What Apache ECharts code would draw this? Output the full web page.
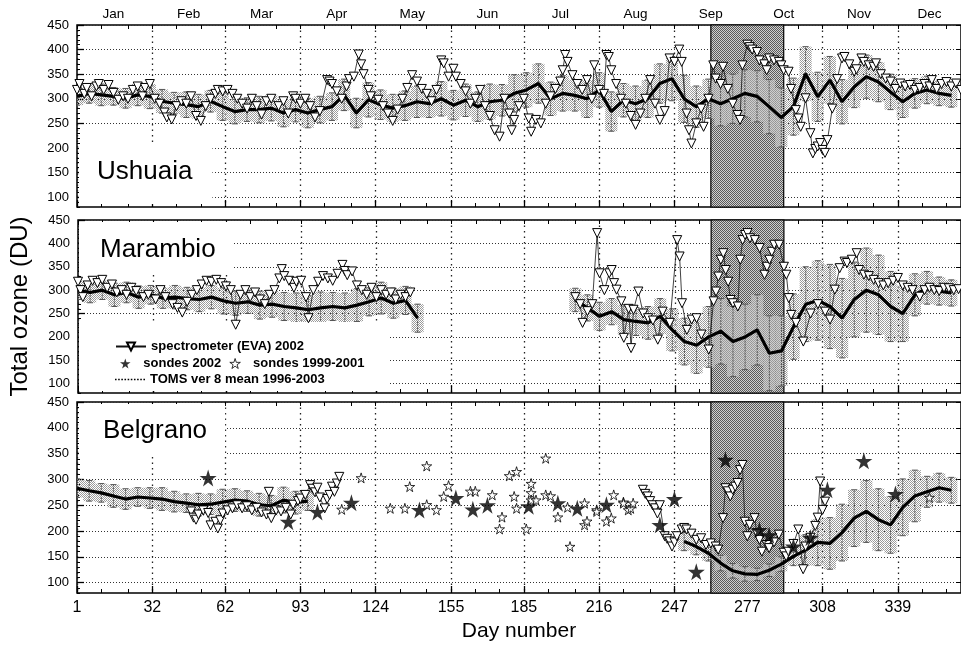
<!DOCTYPE html>
<html>
<head>
<meta charset="utf-8">
<script src="https://cdn.jsdelivr.net/npm/echarts@6/dist/echarts.min.js"></script>
<style>
  html, body { margin: 0; padding: 0; background: #fff; }
  #chart { width: 961px; height: 645px; }
</style>
</head>
<body>
<div id="chart"></div>
<script>
// ---- axes ----
const majorDays = [1, 32, 62, 93, 124, 155, 185, 216, 247, 277, 308, 339];
const minorDays = [1, 11, 22, 32, 42, 52, 62, 72, 83, 93, 103, 114, 124, 134, 145, 155, 165, 175, 185, 195,
  206, 216, 226, 237, 247, 257, 267, 277, 287, 298, 308, 318, 329, 339, 349, 359];
const monthDays = [16, 47, 77, 108, 139, 170, 200, 231, 262, 292, 323, 352];
const monthNames = ['Jan', 'Feb', 'Mar', 'Apr', 'May', 'Jun', 'Jul', 'Aug', 'Sep', 'Oct', 'Nov', 'Dec'];
const yMajor = [100, 150, 200, 250, 300, 350, 400, 450];
const holePeriod = [262, 292];

const stations = ['Ushuaia', 'Marambio', 'Belgrano'];

// ---- TOMS mean 1996-2003, every 5 days ----
const days = [1, 6, 11, 16, 21, 26, 31, 36, 41, 46, 51, 56, 61, 66, 71, 76, 81, 86, 91, 96,
  101, 106, 111, 116, 121, 126, 131, 136, 141, 146, 151, 156, 161, 166, 171, 176, 181, 186, 191, 196,
  201, 206, 211, 216, 221, 226, 231, 236, 241, 246, 251, 256, 261, 266, 271, 276, 281, 286, 291, 296,
  301, 306, 311, 316, 321, 326, 331, 336, 341, 346, 351, 356, 361];

const ushMean = [305, 311, 308, 305, 301, 308, 305, 295, 291, 288, 284, 295, 284, 274, 278, 278, 281, 271, 278, 271,
  278, 284, 308, 271, 298, 288, 281, 286, 294, 290, 300, 287, 297, 284, 294, 297, 311, 318, 331, 300,
  311, 307, 300, 318, 274, 297, 290, 300, 331, 341, 300, 284, 300, 290, 300, 311, 305, 284, 262, 284,
  351, 304, 338, 294, 324, 345, 334, 314, 294, 311, 318, 311, 307];
const ushSpread = [18, 20, 22, 18, 20, 22, 25, 24, 22, 26, 25, 22, 28, 25, 24, 27, 26, 28, 25, 30,
  27, 28, 32, 30, 35, 30, 28, 30, 32, 28, 35, 30, 33, 30, 36, 32, 38, 35, 40, 34,
  36, 32, 38, 35, 40, 34, 36, 38, 40, 45, 48, 42, 40, 45, 50, 48, 52, 55, 60, 58,
  55, 50, 48, 45, 42, 44, 40, 36, 32, 30, 28, 25, 24];

const marMean = [300, 295, 300, 290, 295, 285, 290, 283, 285, 282, 280, 285, 277, 272, 275, 268, 270, 265, 262, 258,
  262, 265, 262, 268, 275, 283, 272, 278, 240, null, null, null, null, null, null, null, null, null, null, null,
  null, 279, 262, 244, 254, 237, 233, 230, 244, 215, 190, 182, 200, 212, 190, 200, 215, 165, 170, 222,
  270, 278, 265, 240, 280, 300, 290, 265, 250, 290, 305, 298, 294];
const marSpread = [20, 22, 20, 25, 22, 24, 20, 22, 25, 24, 26, 25, 28, 26, 25, 30, 28, 30, 32, 30,
  34, 30, 32, 35, 30, 34, 32, 30, 30, null, null, null, null, null, null, null, null, null, null, null,
  null, 25, 28, 30, 28, 32, 30, 35, 38, 45, 50, 60, 65, 70, 75, 70, 75, 80, 75, 70,
  80, 85, 90, 85, 80, 90, 85, 75, 60, 45, 35, 30, 28];

const belMean = [283, 278, 274, 268, 262, 266, 264, 262, 257, 254, 251, 252, 256, 260, 258, 251, 249, 260, 255, 258,
  null, null, null, null, null, null, null, null, null, null, null, null, null, null, null, null, null, null, null, null,
  null, null, null, null, null, null, null, null, null, null, 180, 170, 157, 138, 123, 117, 116, 124, 136, 151,
  163, 178, 176, 197, 225, 238, 222, 212, 246, 268, 276, 284, 279];
const belSpread = [18, 20, 18, 22, 20, 18, 20, 22, 20, 18, 22, 20, 25, 22, 20, 22, 20, 25, 22, 18,
  null, null, null, null, null, null, null, null, null, null, null, null, null, null, null, null, null, null, null, null,
  null, null, null, null, null, null, null, null, null, null, 18, 16, 15, 15, 14, 14, 12, 12, 14, 18,
  30, 45, 50, 55, 55, 60, 60, 55, 55, 50, 30, 28, 25];

// ---- spectrometer (EVA) 2002: [day, DU] ----
const ushSpec = [[1, 318], [2, 330], [4, 310], [5, 322], [7, 305], [9, 325], [10, 330], [12, 318], [14, 328], [16, 312],
  [18, 298], [20, 305], [22, 300], [24, 318], [26, 325], [28, 305], [29, 322], [31, 330], [33, 300], [35, 290],
  [37, 272], [38, 262], [40, 258], [42, 285], [44, 295], [46, 290], [48, 305], [50, 265], [52, 255], [54, 285],
  [56, 300], [58, 310], [59, 318], [61, 315], [63, 318], [65, 310], [67, 300], [69, 290], [71, 280], [73, 300],
  [75, 285], [77, 268], [79, 295], [81, 300], [84, 285], [86, 295], [88, 270], [90, 305], [91, 300], [93, 290],
  [95, 300], [97, 285], [99, 262], [101, 275], [104, 338], [105, 335], [106, 330], [108, 315], [110, 300], [112, 325],
  [113, 340], [115, 345], [117, 390], [118, 370], [119, 350], [121, 318], [122, 305], [125, 298], [127, 285], [129, 270],
  [131, 255], [133, 278], [135, 300], [137, 322], [139, 348], [141, 335], [143, 320], [145, 310], [147, 295], [149, 318],
  [151, 378], [152, 372], [154, 345], [156, 361], [157, 345], [159, 330], [161, 315], [163, 290], [165, 300], [167, 318],
  [169, 285], [171, 265], [173, 236], [175, 223], [177, 300], [179, 270], [180, 236], [181, 257], [183, 285], [185, 300],
  [187, 260], [188, 233], [190, 257], [192, 250], [194, 290], [196, 305], [198, 320], [200, 335], [201, 358], [202, 389],
  [203, 375], [205, 348], [207, 330], [209, 318], [211, 338], [213, 300], [214, 368], [216, 318], [218, 310], [219, 389],
  [220, 385], [221, 358], [223, 330], [225, 300], [227, 290], [229, 265], [231, 247], [233, 270], [235, 300], [237, 338],
  [239, 290], [241, 257], [243, 275], [245, 382], [247, 375], [249, 400], [250, 375], [252, 270], [253, 236], [254, 209],
  [256, 250], [258, 280], [259, 243], [261, 300], [263, 368], [264, 341], [266, 330], [267, 365], [269, 320], [271, 290],
  [273, 267], [274, 257], [275, 368], [277, 410], [278, 405], [279, 400], [281, 395], [282, 378], [284, 370], [285, 358],
  [286, 382], [288, 378], [290, 375], [291, 368], [292, 358], [294, 355], [295, 320], [297, 277], [298, 260], [299, 243],
  [301, 301], [303, 230], [304, 189], [305, 198], [306, 203], [307, 210], [308, 196], [309, 190], [310, 216], [312, 280],
  [314, 340], [316, 382], [317, 385], [319, 370], [321, 355], [322, 360], [324, 382], [325, 375], [327, 368], [329, 365],
  [330, 372], [332, 350], [334, 341], [336, 335], [338, 320], [340, 331], [342, 325], [344, 328], [346, 318], [348, 322],
  [350, 330], [352, 325], [353, 338], [355, 320], [357, 330], [359, 334], [361, 325], [363, 331], [365, 318]];

const marSpec = [[1, 318], [2, 300], [3, 285], [5, 310], [7, 320], [9, 315], [11, 322], [13, 305], [15, 312], [17, 295],
  [19, 300], [21, 290], [23, 305], [25, 298], [28, 285], [30, 290], [33, 280], [35, 300], [37, 285], [40, 270],
  [42, 262], [44, 252], [46, 275], [48, 290], [50, 300], [52, 312], [54, 320], [56, 318], [58, 322], [60, 315],
  [62, 308], [64, 300], [66, 226], [68, 290], [70, 300], [72, 285], [74, 295], [76, 280], [78, 270], [80, 290],
  [82, 300], [84, 325], [85, 345], [86, 330], [88, 320], [90, 305], [91, 318], [93, 320], [95, 285], [96, 240],
  [98, 300], [100, 318], [102, 330], [104, 325], [106, 320], [108, 335], [110, 354], [111, 341], [112, 332], [114, 340],
  [116, 310], [118, 300], [120, 290], [122, 305], [124, 285], [126, 300], [128, 290], [130, 295], [132, 280], [134, 290],
  [136, 285], [138, 295], [170, null],
  [206, 285], [208, 270], [209, 230], [211, 255], [213, 270], [215, 422], [216, 336], [218, 300], [220, 336], [221, 343],
  [222, 315], [223, 301], [225, 276], [226, 198], [228, 260], [229, 176], [230, 258], [232, 297], [234, 250], [236, 240],
  [238, 235], [240, 194], [242, 254], [245, 230], [248, 407], [249, 372], [250, 272], [252, 215], [254, 237], [256, 240],
  [258, 205], [261, 173], [263, 276], [264, 297], [265, 329], [266, 365], [267, 379], [268, 343], [269, 318], [270, 279],
  [271, 272], [273, 265], [274, 365], [275, 407], [276, 418], [277, 422], [278, 411], [280, 407], [282, 390], [284, 333],
  [285, 350], [286, 365], [287, 382], [288, 397], [290, 397], [292, 350], [293, 333], [294, 283], [295, 247], [297, 230],
  [300, 190], [303, 250], [306, 270], [309, 254], [311, 237], [313, 301], [315, 347], [317, 361], [318, 358], [320, 365],
  [322, 379], [323, 343], [325, 333], [327, 330], [329, 322], [331, 315], [333, 310], [335, 315], [337, 320], [339, 326],
  [341, 310], [343, 305], [345, 300], [348, 286], [350, 300], [352, 305], [354, 300], [356, 298], [358, 305], [360, 304],
  [362, 300], [364, 302]];

const belSpec = [[48, 238], [49, 226], [50, 222], [51, 232], [53, 240], [55, 235], [56, 211], [58, 218], [59, 205], [60, 221],
  [61, 234], [63, 240], [65, 244], [67, 250], [69, 244], [71, 248], [73, 240], [75, 245], [77, 236], [79, 232],
  [80, 276], [81, 225], [83, 240], [85, 238], [87, 245], [89, 232], [90, 251], [92, 258], [93, 263], [95, 270],
  [97, 289], [98, 282], [99, 275], [100, 284], [101, 265], [103, 244], [104, 262], [105, 270], [106, 286], [107, 276],
  [108, 292], [109, 305], [170, null],
  [234, 280], [235, 272], [236, 267], [237, 258], [238, 250], [239, 244], [240, 234], [241, 250], [243, 190], [244, 185],
  [245, 180], [246, 170], [247, 178], [248, 190], [250, 203], [251, 206], [252, 203], [254, 195], [256, 183], [258, 186],
  [260, 173], [262, 176], [264, 170], [265, 164], [267, 225], [268, 283], [269, 277], [270, 267], [271, 280], [272, 286],
  [273, 293], [274, 318], [275, 328], [276, 218], [277, 190], [278, 212], [280, 225], [281, 195], [282, 183], [283, 160],
  [285, 173], [286, 167], [288, 178], [290, 193], [292, 158], [293, 151], [294, 160], [296, 175], [298, 203], [300, 126],
  [301, 170], [303, 187], [305, 210], [306, 226], [307, 296], [308, 241], [309, 257]];

// ---- ozone sondes at Belgrano: [day, DU] ----
const sondes2002 = [[55, 303], [88, 218], [100, 237], [114, 255], [142, 241], [157, 264], [164, 242], [170, 250],
  [187, 248], [199, 254], [207, 244], [219, 251], [241, 212], [247, 262], [256, 121], [268, 338], [282, 202],
  [286, 192], [296, 170], [303, 187], [310, 280], [325, 336], [338, 272]];
const sondes9901 = [[110, 242], [118, 303], [130, 244], [136, 244], [138, 286], [145, 326], [145, 251], [149, 241],
  [152, 267], [154, 288], [163, 277], [165, 277], [172, 270], [175, 204], [176, 227], [179, 307], [182, 315],
  [181, 267], [182, 244], [186, 204], [188, 292], [188, 274], [188, 260], [190, 260], [194, 341], [194, 270],
  [196, 268], [199, 227], [203, 246], [204, 170], [210, 254], [210, 212], [211, 219], [215, 241], [215, 238],
  [219, 219], [221, 225], [222, 270], [226, 256], [226, 254], [228, 241], [229, 244], [230, 254], [352, 265]];

const means = [ushMean, marMean, belMean];
const spreads = [ushSpread, marSpread, belSpread];
const specs = [ushSpec, marSpec, belSpec];

// ---- styling helpers ----
const FONT = 'Liberation Sans';
const STAR = 'path://M50,0 L61,35 L98,35 L68,57 L79,91 L50,70 L21,91 L32,57 L2,35 L39,35 Z';
const DOTTED = 'path://M0,0h1.6v1.6h-1.6zM3.2,0h1.6v1.6h-1.6zM6.4,0h1.6v1.6h-1.6zM9.6,0h1.6v1.6h-1.6zM12.8,0h1.6v1.6h-1.6z' +
  'M16,0h1.6v1.6h-1.6zM19.2,0h1.6v1.6h-1.6zM22.4,0h1.6v1.6h-1.6zM25.6,0h1.6v1.6h-1.6zM28.8,0h1.6v1.6h-1.6z';
const SPEC_NAME = 'spectrometer (EVA) 2002';
const TOMS_NAME = 'TOMS ver 8 mean 1996-2003';

function stipple(bg, dot, cells) {
  const c = document.createElement('canvas');
  c.width = 2; c.height = 2;
  const g = c.getContext('2d');
  if (bg) { g.fillStyle = bg; g.fillRect(0, 0, 2, 2); }
  g.fillStyle = dot;
  cells.forEach(p => g.fillRect(p[0], p[1], 1, 1));
  return { image: c, repeat: 'repeat' };
}
const spreadFill = stipple(null, '#9a9a9a', [[0, 0], [1, 1]]);
const holeFill = stipple('#cfcfcf', '#5a5a5a', [[0, 0], [1, 1]]);

function spreadBars(params, api) {
  const d = api.value(0);
  const lo = api.coord([d, api.value(1)]);
  const hi = api.coord([d, api.value(2)]);
  const w = api.size([5, 0])[0];
  const st = { stroke: '#555', lineWidth: 1, lineDash: [2, 1] };
  return {
    type: 'group',
    children: [
      { type: 'rect', shape: { x: lo[0] - w / 2, y: hi[1], width: w, height: lo[1] - hi[1] }, style: { fill: spreadFill } },
      { type: 'line', shape: { x1: lo[0], y1: lo[1], x2: hi[0], y2: hi[1] }, style: st },
      { type: 'line', shape: { x1: lo[0] - 3, y1: lo[1], x2: lo[0] + 3, y2: lo[1] }, style: { stroke: '#555', lineWidth: 1 } },
      { type: 'line', shape: { x1: hi[0] - 3, y1: hi[1], x2: hi[0] + 3, y2: hi[1] }, style: { stroke: '#555', lineWidth: 1 } }
    ]
  };
}

const panels = [
  { top: 25, height: 182 },
  { top: 220, height: 173 },
  { top: 402, height: 191 }
];

const grid = [], xAxis = [], yAxis = [], series = [];
const yMinor = [];
for (let v = 80; v <= 450; v += 10) yMinor.push(v);

panels.forEach((p, i) => {
  grid.push({ left: 77, top: p.top, width: 884, height: p.height, show: true, borderColor: '#000', borderWidth: 1.5 });

  xAxis.push({
    gridIndex: i, type: 'value', min: 1, max: 365, position: 'bottom',
    axisLine: { show: false },
    axisTick: { inside: true, length: 7, customValues: majorDays, lineStyle: { color: '#000', width: 1.3 } },
    axisLabel: { show: i === 2, customValues: majorDays, fontSize: 16, color: '#000', margin: 7, fontFamily: FONT },
    splitLine: { show: true, lineStyle: { color: '#222', type: [1.5, 4], width: 1.3 } },
    name: i === 2 ? 'Day number' : '', nameLocation: 'middle', nameGap: 28,
    nameTextStyle: { fontSize: 21, color: '#000', fontFamily: FONT }
  });
  xAxis.push({
    gridIndex: i, type: 'value', min: 1, max: 365, position: 'bottom',
    axisLine: { show: false },
    axisTick: { inside: true, length: 4, customValues: minorDays, lineStyle: { color: '#000' } },
    axisLabel: { show: false }, splitLine: { show: false }
  });
  xAxis.push({
    gridIndex: i, type: 'value', min: 1, max: 365, position: 'top',
    axisLine: { show: false },
    axisTick: { inside: true, length: 4, customValues: minorDays, lineStyle: { color: '#000' } },
    axisLabel: {
      show: i === 0, customValues: monthDays, fontSize: 13.5, color: '#000', margin: 4, fontFamily: FONT,
      formatter: v => monthNames[monthDays.indexOf(v)]
    },
    splitLine: { show: false }
  });

  yAxis.push({
    gridIndex: i, type: 'value', min: 80, max: 450, position: 'left',
    axisLine: { show: false },
    axisTick: { inside: true, length: 7, customValues: yMajor, lineStyle: { color: '#000', width: 1.3 } },
    axisLabel: { customValues: yMajor, fontSize: 13, color: '#000', margin: 8, fontFamily: FONT },
    splitLine: { show: true, lineStyle: { color: '#333', type: [1, 2], width: 1 } },
    name: i === 1 ? 'Total ozone (DU)' : '', nameLocation: 'middle', nameRotate: 90, nameGap: 46,
    nameTextStyle: { fontSize: 24, color: '#000', fontFamily: FONT }
  });
  yAxis.push({
    gridIndex: i, type: 'value', min: 80, max: 450, position: 'left',
    axisLine: { show: false },
    axisTick: { inside: true, length: 3, customValues: yMinor, lineStyle: { color: '#000' } },
    axisLabel: { show: false }, splitLine: { show: false }
  });
  yAxis.push({
    gridIndex: i, type: 'value', min: 80, max: 450, position: 'right',
    axisLine: { show: false },
    axisTick: { inside: true, length: 5, customValues: yMajor, lineStyle: { color: '#000' } },
    axisLabel: { show: false }, splitLine: { show: false }
  });

  const xi = i * 3, yi = i * 3;
  const bars = [];
  const line = [];
  days.forEach((d, k) => {
    const m = means[i][k], s = spreads[i][k];
    line.push([d, m]);
    if (m != null && s != null) bars.push([d, m - s, m + s]);
  });

  series.push({
    name: 'TOMS spread ' + stations[i], type: 'custom', xAxisIndex: xi, yAxisIndex: yi,
    renderItem: spreadBars, encode: { x: 0, y: [1, 2] }, data: bars, clip: true, z: 2, silent: true
  });
  series.push({
    name: TOMS_NAME, type: 'line', xAxisIndex: xi, yAxisIndex: yi, data: line,
    symbol: 'none', showSymbol: false, connectNulls: false, z: 4, silent: true,
    lineStyle: { color: '#000', width: 3.2 }, itemStyle: { color: '#000' },
    markArea: {
      silent: true,
      itemStyle: { color: holeFill, borderColor: '#000', borderWidth: 1.2 },
      data: [[{ xAxis: holePeriod[0] }, { xAxis: holePeriod[1] }]]
    }
  });
  series.push({
    name: SPEC_NAME, type: 'line', xAxisIndex: xi, yAxisIndex: yi, data: specs[i],
    symbol: 'triangle', symbolRotate: 180, symbolSize: 9, showAllSymbol: true, connectNulls: false, z: 5, silent: true,
    lineStyle: { color: '#111', width: 0.8 },
    itemStyle: { color: '#fff', borderColor: '#000', borderWidth: 1 }
  });
});

series.push({
  name: 'sondes 2002', type: 'scatter', xAxisIndex: 6, yAxisIndex: 6, data: sondes2002,
  symbol: STAR, symbolSize: 17, z: 6, silent: true, itemStyle: { color: '#000' }
});
series.push({
  name: 'sondes 1999-2001', type: 'scatter', xAxisIndex: 6, yAxisIndex: 6, data: sondes9901,
  symbol: STAR, symbolSize: 10, z: 6, silent: true,
  itemStyle: { color: '#fff', borderColor: '#000', borderWidth: 1 }
});

const labelStyle = { fontSize: 26, color: '#000', fontWeight: 'normal', fontFamily: FONT };
const legendText = { fontSize: 13, fontWeight: 'bold', color: '#000', fontFamily: FONT };

const option = {
  animation: false,
  backgroundColor: '#fff',
  textStyle: { fontFamily: FONT },
  title: [
    { text: 'Ushuaia', left: 79, top: 145, padding: [14, 20, 19, 18], backgroundColor: '#fff', textStyle: labelStyle },
    { text: 'Marambio', left: 79, top: 222, padding: [15, 18, 9, 21], backgroundColor: '#fff', textStyle: labelStyle },
    { text: 'Belgrano', left: 79, top: 404, padding: [14, 18, 13, 24], backgroundColor: '#fff', textStyle: labelStyle }
  ],
  graphic: {
    elements: [{ type: 'rect', left: 79, top: 322, z: 3, shape: { width: 311, height: 69 }, style: { fill: '#fff' } }]
  },
  legend: [
    {
      left: 110, top: 335, itemWidth: 30, itemHeight: 10, itemGap: 4, selectedMode: false,
      textStyle: legendText, data: [{ name: SPEC_NAME }]
    },
    {
      left: 115, top: 352, itemWidth: 26, itemHeight: 10, itemGap: 8, selectedMode: false,
      textStyle: legendText,
      data: [
        { name: 'sondes 2002', icon: STAR, itemStyle: { color: '#000', borderWidth: 0 } },
        { name: 'sondes 1999-2001', icon: STAR, itemStyle: { color: '#fff', borderColor: '#000', borderWidth: 1 } }
      ]
    },
    {
      left: 110, top: 368, itemWidth: 30, itemHeight: 10, selectedMode: false, textStyle: legendText,
      data: [{ name: TOMS_NAME, icon: DOTTED, itemStyle: { color: '#000' } }]
    }
  ],
  grid, xAxis, yAxis, series
};

const chart = echarts.init(document.getElementById('chart'));
chart.setOption(option);
</script>
</body>
</html>
